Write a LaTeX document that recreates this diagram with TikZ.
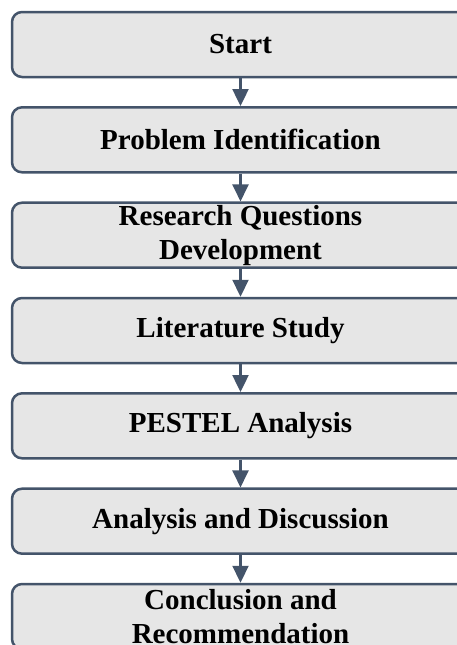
\documentclass[tikz,border=0pt]{standalone}
\usepackage{fontspec}
\setmainfont{Liberation Serif}
\usetikzlibrary{arrows.meta}
\definecolor{edge}{RGB}{68,84,106}
\definecolor{boxfill}{RGB}{230,230,230}
\begin{document}
\begin{tikzpicture}[x=1pt,y=-1pt,
  stepbox/.style={draw=edge, fill=boxfill, line width=2.5pt, rounded corners=10pt,
    minimum width=457pt, minimum height=65pt, inner sep=0pt, align=center,
    font=\bfseries\fontsize{29}{34}\selectfont},
  flow/.style={draw=edge, line width=2.2pt, -{Triangle[width=16pt,length=17pt]}}]
  \path[use as bounding box, clip] (0,0) rectangle (457,645);
  \node[stepbox] (s1) at (240.5,44.5) {Start};
  \node[stepbox] (s2) at (240.5,139.8) {Problem Identification};
  \node[stepbox] (s3) at (240.5,235.2) {Research Questions\\Development};
  \node[stepbox] (s4) at (240.5,330.5) {Literature Study};
  \node[stepbox] (s5) at (240.5,425.8) {PESTEL Analysis};
  \node[stepbox] (s6) at (240.5,521.2) {Analysis and Discussion};
  \node[stepbox] (s7) at (240.5,616.5) {Conclusion and\\Recommendation};
  \foreach \a/\b in {s1/s2,s2/s3,s3/s4,s4/s5,s5/s6,s6/s7}
    \draw[flow] (\a.south) -- (\b.north);
\end{tikzpicture}
\end{document}
